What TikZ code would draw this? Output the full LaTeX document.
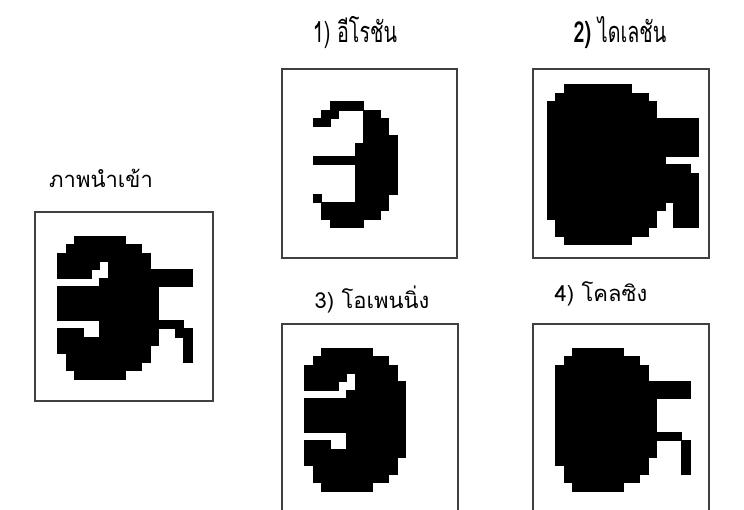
\documentclass[tikz,border=0pt]{standalone}
\usepackage{fontspec}
\newfontfamily\thai[Script=Thai]{Loma}
\newfontfamily\thaicond[Script=Thai,FakeStretch=0.68]{Loma}
\tikzset{
  frame/.style={draw=black!75, line width=1.4pt},
  pix/.style={fill=black, draw=black, line width=0.4pt},
  lbl/.style={inner sep=0pt, font=\thai\fontsize{22}{26}\selectfont},
  lblc/.style={inner sep=0pt, font=\thaicond\fontsize{29}{32}\selectfont},
}
% rows r1..r2, cols c1..c2
\newcommand\pxb[4]{\path[pix] (#3,#1) rectangle ({#4+1},{#2+1});}
\begin{document}
\begin{tikzpicture}[x=1pt,y=-1pt]
\useasboundingbox[fill=white] (0,0) rectangle (744,510);

% frames
\draw[frame] (35,212) rectangle (213,401);
\draw[frame] (282,69) rectangle (457,258);
\draw[frame] (533,69) rectangle (709,258);
\draw[frame] (282,512) -- (282,324) -- (458,324) -- (458,512);
\draw[frame] (533,512) -- (533,324) -- (709,324) -- (709,512);

% labels
\node[lbl]  (t0) at (101,178) {ภาพนำเข้า};
\node[lblc] (t1) at (355,33) {1) อีโรชัน};
\node[lblc] (t2) at (620,33) {\textbf{2)} ไดเลชัน};
\node[lbl]  (t3) at (372,300) {3) โอเพนนิ่ง};
\node[lbl]  (t4) at (601,294) {4) โคลซิง};

% input image
\begin{scope}[shift={(57.5,236)}, x=8.4pt, y=-8.4pt]
\pxb{0}{0}{2}{7}
\pxb{1}{1}{1}{9}
\pxb{2}{2}{0}{10}
\pxb{3}{3}{0}{4} \pxb{3}{3}{6}{10}
\pxb{4}{4}{0}{3} \pxb{4}{4}{6}{15}
\pxb{5}{5}{5}{15}
\pxb{6}{9}{0}{11}
\pxb{10}{10}{5}{14}
\pxb{11}{11}{0}{2} \pxb{11}{11}{5}{11} \pxb{11}{11}{14}{15}
\pxb{12}{12}{0}{11} \pxb{12}{14}{15}{15}
\pxb{13}{13}{0}{10}
\pxb{14}{14}{1}{10}
\pxb{15}{15}{1}{9}
\pxb{16}{16}{2}{7}
\end{scope}

% 1) erosion
\begin{scope}[shift={(304.5,93)}, x=8.4pt, y=-8.4pt]
\pxb{1}{1}{3}{6}
\pxb{2}{2}{2}{3} \pxb{2}{2}{7}{8}
\pxb{3}{3}{1}{2} \pxb{3}{4}{7}{9}
\pxb{5}{5}{7}{10}
\pxb{6}{11}{6}{10}
\pxb{7.5}{7.5}{1}{5}
\pxb{12}{12}{1}{1} \pxb{12}{12}{6}{9}
\pxb{13}{13}{2}{9}
\pxb{14}{14}{2}{8}
\pxb{15}{15}{3}{6}
\end{scope}

% 2) dilation
\begin{scope}[shift={(555.5,93)}, x=8.4pt, y=-8.4pt]
\pxb{-1}{-1}{1}{8}
\pxb{0}{0}{0}{10}
\pxb{1}{2}{-1}{11}
\pxb{3}{6.5}{-1}{16}
\pxb{7.5}{7.5}{-1}{12}
\pxb{8.5}{8.5}{-1}{15}
\pxb{9.5}{12}{-1}{16}
\pxb{13}{13}{-1}{12} \pxb{13}{15}{14}{16}
\pxb{14}{14}{-1}{11}
\pxb{15}{15}{0}{11}
\pxb{16}{16}{0}{10}
\pxb{17}{17}{1}{8}
\end{scope}

% 3) opening
\begin{scope}[shift={(304.5,348)}, x=8.4pt, y=-8.4pt]
\pxb{0}{0}{2}{7}
\pxb{1}{1}{1}{9}
\pxb{2}{2}{0}{10}
\pxb{3}{3}{0}{4} \pxb{3}{3}{6}{10}
\pxb{4}{4}{0}{3} \pxb{4}{4}{6}{11}
\pxb{5}{5}{5}{11}
\pxb{6}{9}{0}{11}
\pxb{10}{10}{5}{11}
\pxb{11}{11}{0}{2} \pxb{11}{11}{5}{11}
\pxb{12}{12}{0}{11}
\pxb{13}{13}{0}{10}
\pxb{14}{14}{1}{10}
\pxb{15}{15}{1}{9}
\pxb{16}{16}{2}{7}
\end{scope}

% 4) closing
\begin{scope}[shift={(555.5,348)}, x=8.4pt, y=-8.4pt]
\pxb{0}{0}{2}{7}
\pxb{1}{1}{1}{9}
\pxb{2}{3}{0}{10}
\pxb{4}{5}{0}{15}
\pxb{6}{9}{0}{11}
\pxb{10}{10}{0}{14}
\pxb{11}{12}{0}{11} \pxb{11}{14}{15}{15}
\pxb{13}{13}{0}{10}
\pxb{14}{14}{1}{10}
\pxb{15}{15}{1}{9}
\pxb{16}{16}{2}{7}
\end{scope}
\end{tikzpicture}
\end{document}
